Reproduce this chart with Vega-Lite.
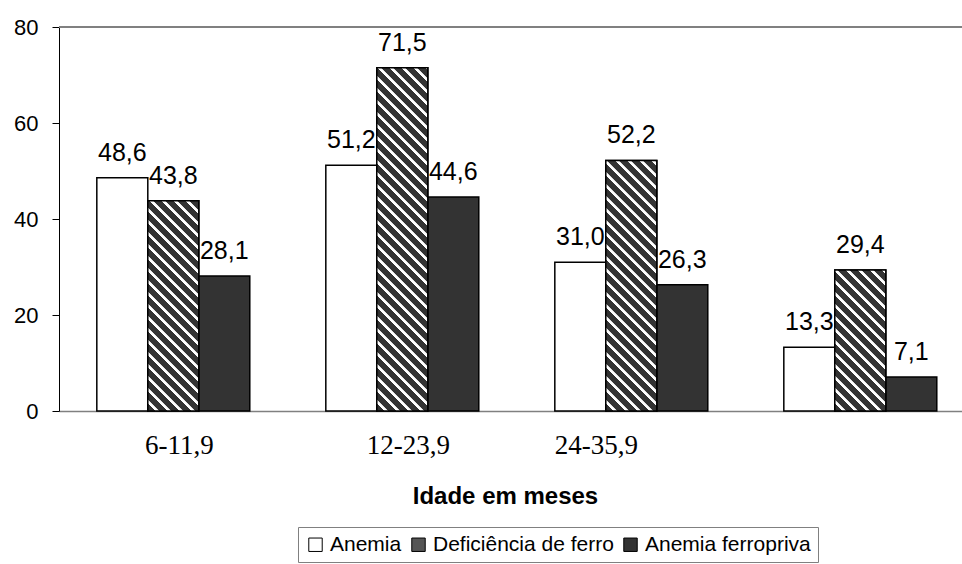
{
"$schema": "https://vega.github.io/schema/vega-lite/v6.json",
"width": 903,
"height": 384,
"autosize": {"type": "none"},
"padding": {"left": 59, "top": 27, "right": 0, "bottom": 153},
"background": "white",
"config": {
  "view": {"stroke": null},
  "font": "Liberation Sans",
  "locale": {"number": {"decimal": ",", "thousands": ".", "grouping": [3], "currency": ["", ""]}}
},
"data": {"values": [
  {"grupo": "6-11,9", "serie": "Anemia", "valor": 48.6},
  {"grupo": "6-11,9", "serie": "Deficiência de ferro", "valor": 43.8},
  {"grupo": "6-11,9", "serie": "Anemia ferropriva", "valor": 28.1},
  {"grupo": "12-23,9", "serie": "Anemia", "valor": 51.2},
  {"grupo": "12-23,9", "serie": "Deficiência de ferro", "valor": 71.5},
  {"grupo": "12-23,9", "serie": "Anemia ferropriva", "valor": 44.6},
  {"grupo": "24-35,9", "serie": "Anemia", "valor": 31.0},
  {"grupo": "24-35,9", "serie": "Deficiência de ferro", "valor": 52.2},
  {"grupo": "24-35,9", "serie": "Anemia ferropriva", "valor": 26.3},
  {"grupo": "", "serie": "Anemia", "valor": 13.3},
  {"grupo": "", "serie": "Deficiência de ferro", "valor": 29.4},
  {"grupo": "", "serie": "Anemia ferropriva", "valor": 7.1}
]},
"encoding": {
  "x": {"field": "grupo", "type": "nominal", "sort": null,
    "scale": {"domain": ["6-11,9", "12-23,9", "24-35,9", ""], "paddingInner": 0.332, "paddingOuter": 0.1376, "align": 0.6},
    "axis": {"title": "Idade em meses", "labelAngle": 0, "labelFont": "Liberation Serif", "labelFontSize": 27, "labelColor": "black",
      "labelBaseline": "alphabetic", "labelPadding": 42,
      "labelOffset": {"condition": {"test": "datum.value === '24-35,9'", "value": -35}, "value": 6},
      "ticks": false, "tickSize": 0, "domainColor": "#808080", "domainWidth": 1.5,
      "titleFont": "Liberation Sans", "titleFontSize": 24, "titleFontWeight": "bold", "titleColor": "black",
      "titleBaseline": "alphabetic", "titleY": 92, "titleX": 446, "titleAlign": "center"}},
  "xOffset": {"field": "serie", "type": "nominal", "sort": null,
    "scale": {"domain": ["Anemia", "Deficiência de ferro", "Anemia ferropriva"], "paddingInner": 0, "paddingOuter": 0}},
  "y": {"field": "valor", "type": "quantitative",
    "scale": {"domain": [0, 80], "nice": false},
    "axis": {"title": null, "values": [0, 20, 40, 60, 80], "grid": false, "domainColor": "black", "domainWidth": 1,
      "tickColor": "black", "tickSize": 7, "labelFontSize": 22, "labelFont": "Liberation Sans", "labelColor": "black", "labelPadding": 14}}
},
"layer": [
  {
    "mark": {"type": "rule", "color": "#808080", "strokeWidth": 1.5},
    "encoding": {"y": {"datum": 80, "type": "quantitative"}, "x": {"value": 0}, "x2": {"value": 903}, "xOffset": {"value": 0}}
  },
  {
    "mark": {"type": "bar", "stroke": "black", "strokeWidth": 1.5},
    "encoding": {
      "color": {"field": "serie", "type": "nominal", "sort": null,
        "scale": {"domain": ["Anemia", "Deficiência de ferro", "Anemia ferropriva"], "range": ["#ffffff", "#555555", "#333333"]},
        "legend": {"title": null, "orient": "none", "legendX": 239, "legendY": 500, "direction": "horizontal",
          "labelFont": "Liberation Sans", "labelFontSize": 21, "labelColor": "black", "labelLimit": 400,
          "symbolType": "square", "symbolSize": 180, "symbolStrokeColor": "black", "symbolStrokeWidth": 1,
          "strokeColor": "#808080", "padding": 7, "columnPadding": 6, "labelOffset": 4}}
    }
  },
  {
    "transform": [{"filter": "datum.serie === 'Deficiência de ferro' && datum.grupo === '6-11,9'"}],
    "mark": {"type": "bar", "stroke": "black", "strokeWidth": 1.5,
      "fill": {"gradient": "linear", "x1": 0, "y1": 1, "x2": 0.5232, "y2": -1.1566, "stops": [
{"offset":0,"color":"#333"},{"offset":0.015,"color":"#333"},{"offset":0.017,"color":"#fff"},{"offset":0.023,"color":"#fff"},
{"offset":0.025,"color":"#333"},{"offset":0.04,"color":"#333"},{"offset":0.042,"color":"#fff"},{"offset":0.048,"color":"#fff"},
{"offset":0.05,"color":"#333"},{"offset":0.065,"color":"#333"},{"offset":0.067,"color":"#fff"},{"offset":0.073,"color":"#fff"},
{"offset":0.075,"color":"#333"},{"offset":0.09,"color":"#333"},{"offset":0.092,"color":"#fff"},{"offset":0.098,"color":"#fff"},
{"offset":0.1,"color":"#333"},{"offset":0.115,"color":"#333"},{"offset":0.117,"color":"#fff"},{"offset":0.123,"color":"#fff"},
{"offset":0.125,"color":"#333"},{"offset":0.14,"color":"#333"},{"offset":0.142,"color":"#fff"},{"offset":0.148,"color":"#fff"},
{"offset":0.15,"color":"#333"},{"offset":0.165,"color":"#333"},{"offset":0.167,"color":"#fff"},{"offset":0.173,"color":"#fff"},
{"offset":0.175,"color":"#333"},{"offset":0.19,"color":"#333"},{"offset":0.192,"color":"#fff"},{"offset":0.198,"color":"#fff"},
{"offset":0.2,"color":"#333"},{"offset":0.215,"color":"#333"},{"offset":0.217,"color":"#fff"},{"offset":0.223,"color":"#fff"},
{"offset":0.225,"color":"#333"},{"offset":0.24,"color":"#333"},{"offset":0.242,"color":"#fff"},{"offset":0.248,"color":"#fff"},
{"offset":0.25,"color":"#333"},{"offset":0.265,"color":"#333"},{"offset":0.267,"color":"#fff"},{"offset":0.273,"color":"#fff"},
{"offset":0.275,"color":"#333"},{"offset":0.29,"color":"#333"},{"offset":0.292,"color":"#fff"},{"offset":0.298,"color":"#fff"},
{"offset":0.3,"color":"#333"},{"offset":0.315,"color":"#333"},{"offset":0.317,"color":"#fff"},{"offset":0.323,"color":"#fff"},
{"offset":0.325,"color":"#333"},{"offset":0.34,"color":"#333"},{"offset":0.342,"color":"#fff"},{"offset":0.348,"color":"#fff"},
{"offset":0.35,"color":"#333"},{"offset":0.365,"color":"#333"},{"offset":0.367,"color":"#fff"},{"offset":0.373,"color":"#fff"},
{"offset":0.375,"color":"#333"},{"offset":0.39,"color":"#333"},{"offset":0.392,"color":"#fff"},{"offset":0.398,"color":"#fff"},
{"offset":0.4,"color":"#333"},{"offset":0.415,"color":"#333"},{"offset":0.417,"color":"#fff"},{"offset":0.423,"color":"#fff"},
{"offset":0.425,"color":"#333"},{"offset":0.44,"color":"#333"},{"offset":0.442,"color":"#fff"},{"offset":0.448,"color":"#fff"},
{"offset":0.45,"color":"#333"},{"offset":0.465,"color":"#333"},{"offset":0.467,"color":"#fff"},{"offset":0.473,"color":"#fff"},
{"offset":0.475,"color":"#333"},{"offset":0.49,"color":"#333"},{"offset":0.492,"color":"#fff"},{"offset":0.498,"color":"#fff"},
{"offset":0.5,"color":"#333"},{"offset":0.515,"color":"#333"},{"offset":0.517,"color":"#fff"},{"offset":0.523,"color":"#fff"},
{"offset":0.525,"color":"#333"},{"offset":0.54,"color":"#333"},{"offset":0.542,"color":"#fff"},{"offset":0.548,"color":"#fff"},
{"offset":0.55,"color":"#333"},{"offset":0.565,"color":"#333"},{"offset":0.567,"color":"#fff"},{"offset":0.573,"color":"#fff"}
      ]}}
  },
  {
    "transform": [{"filter": "datum.serie === 'Deficiência de ferro' && datum.grupo === '12-23,9'"}],
    "mark": {"type": "bar", "stroke": "black", "strokeWidth": 1.5,
      "fill": {"gradient": "linear", "x1": 0, "y1": 1, "x2": 0.2033, "y2": -0.3684, "stops": [
{"offset":0,"color":"#333"},{"offset":0.015,"color":"#333"},{"offset":0.017,"color":"#fff"},{"offset":0.023,"color":"#fff"},
{"offset":0.025,"color":"#333"},{"offset":0.04,"color":"#333"},{"offset":0.042,"color":"#fff"},{"offset":0.048,"color":"#fff"},
{"offset":0.05,"color":"#333"},{"offset":0.065,"color":"#333"},{"offset":0.067,"color":"#fff"},{"offset":0.073,"color":"#fff"},
{"offset":0.075,"color":"#333"},{"offset":0.09,"color":"#333"},{"offset":0.092,"color":"#fff"},{"offset":0.098,"color":"#fff"},
{"offset":0.1,"color":"#333"},{"offset":0.115,"color":"#333"},{"offset":0.117,"color":"#fff"},{"offset":0.123,"color":"#fff"},
{"offset":0.125,"color":"#333"},{"offset":0.14,"color":"#333"},{"offset":0.142,"color":"#fff"},{"offset":0.148,"color":"#fff"},
{"offset":0.15,"color":"#333"},{"offset":0.165,"color":"#333"},{"offset":0.167,"color":"#fff"},{"offset":0.173,"color":"#fff"},
{"offset":0.175,"color":"#333"},{"offset":0.19,"color":"#333"},{"offset":0.192,"color":"#fff"},{"offset":0.198,"color":"#fff"},
{"offset":0.2,"color":"#333"},{"offset":0.215,"color":"#333"},{"offset":0.217,"color":"#fff"},{"offset":0.223,"color":"#fff"},
{"offset":0.225,"color":"#333"},{"offset":0.24,"color":"#333"},{"offset":0.242,"color":"#fff"},{"offset":0.248,"color":"#fff"},
{"offset":0.25,"color":"#333"},{"offset":0.265,"color":"#333"},{"offset":0.267,"color":"#fff"},{"offset":0.273,"color":"#fff"},
{"offset":0.275,"color":"#333"},{"offset":0.29,"color":"#333"},{"offset":0.292,"color":"#fff"},{"offset":0.298,"color":"#fff"},
{"offset":0.3,"color":"#333"},{"offset":0.315,"color":"#333"},{"offset":0.317,"color":"#fff"},{"offset":0.323,"color":"#fff"},
{"offset":0.325,"color":"#333"},{"offset":0.34,"color":"#333"},{"offset":0.342,"color":"#fff"},{"offset":0.348,"color":"#fff"},
{"offset":0.35,"color":"#333"},{"offset":0.365,"color":"#333"},{"offset":0.367,"color":"#fff"},{"offset":0.373,"color":"#fff"},
{"offset":0.375,"color":"#333"},{"offset":0.39,"color":"#333"},{"offset":0.392,"color":"#fff"},{"offset":0.398,"color":"#fff"},
{"offset":0.4,"color":"#333"},{"offset":0.415,"color":"#333"},{"offset":0.417,"color":"#fff"},{"offset":0.423,"color":"#fff"},
{"offset":0.425,"color":"#333"},{"offset":0.44,"color":"#333"},{"offset":0.442,"color":"#fff"},{"offset":0.448,"color":"#fff"},
{"offset":0.45,"color":"#333"},{"offset":0.465,"color":"#333"},{"offset":0.467,"color":"#fff"},{"offset":0.473,"color":"#fff"},
{"offset":0.475,"color":"#333"},{"offset":0.49,"color":"#333"},{"offset":0.492,"color":"#fff"},{"offset":0.498,"color":"#fff"},
{"offset":0.5,"color":"#333"},{"offset":0.515,"color":"#333"},{"offset":0.517,"color":"#fff"},{"offset":0.523,"color":"#fff"},
{"offset":0.525,"color":"#333"},{"offset":0.54,"color":"#333"},{"offset":0.542,"color":"#fff"},{"offset":0.548,"color":"#fff"},
{"offset":0.55,"color":"#333"},{"offset":0.565,"color":"#333"},{"offset":0.567,"color":"#fff"},{"offset":0.573,"color":"#fff"},
{"offset":0.575,"color":"#333"},{"offset":0.59,"color":"#333"},{"offset":0.592,"color":"#fff"},{"offset":0.598,"color":"#fff"},
{"offset":0.6,"color":"#333"},{"offset":0.615,"color":"#333"},{"offset":0.617,"color":"#fff"},{"offset":0.623,"color":"#fff"},
{"offset":0.625,"color":"#333"},{"offset":0.64,"color":"#333"},{"offset":0.642,"color":"#fff"},{"offset":0.648,"color":"#fff"},
{"offset":0.65,"color":"#333"},{"offset":0.665,"color":"#333"},{"offset":0.667,"color":"#fff"},{"offset":0.673,"color":"#fff"},
{"offset":0.675,"color":"#333"},{"offset":0.69,"color":"#333"},{"offset":0.692,"color":"#fff"},{"offset":0.698,"color":"#fff"},
{"offset":0.7,"color":"#333"},{"offset":0.715,"color":"#333"},{"offset":0.717,"color":"#fff"},{"offset":0.723,"color":"#fff"},
{"offset":0.725,"color":"#333"},{"offset":0.74,"color":"#333"},{"offset":0.742,"color":"#fff"},{"offset":0.748,"color":"#fff"},
{"offset":0.75,"color":"#333"},{"offset":0.765,"color":"#333"},{"offset":0.767,"color":"#fff"},{"offset":0.773,"color":"#fff"},
{"offset":0.775,"color":"#333"},{"offset":0.79,"color":"#333"},{"offset":0.792,"color":"#fff"},{"offset":0.798,"color":"#fff"},
{"offset":0.8,"color":"#333"},{"offset":0.815,"color":"#333"},{"offset":0.817,"color":"#fff"},{"offset":0.823,"color":"#fff"},
{"offset":0.825,"color":"#333"},{"offset":0.84,"color":"#333"},{"offset":0.842,"color":"#fff"},{"offset":0.848,"color":"#fff"}
      ]}}
  },
  {
    "transform": [{"filter": "datum.serie === 'Deficiência de ferro' && datum.grupo === '24-35,9'"}],
    "mark": {"type": "bar", "stroke": "black", "strokeWidth": 1.5,
      "fill": {"gradient": "linear", "x1": 0, "y1": 1, "x2": 0.3743, "y2": -0.8392, "stops": [
{"offset":0,"color":"#333"},{"offset":0.015,"color":"#333"},{"offset":0.017,"color":"#fff"},{"offset":0.023,"color":"#fff"},
{"offset":0.025,"color":"#333"},{"offset":0.04,"color":"#333"},{"offset":0.042,"color":"#fff"},{"offset":0.048,"color":"#fff"},
{"offset":0.05,"color":"#333"},{"offset":0.065,"color":"#333"},{"offset":0.067,"color":"#fff"},{"offset":0.073,"color":"#fff"},
{"offset":0.075,"color":"#333"},{"offset":0.09,"color":"#333"},{"offset":0.092,"color":"#fff"},{"offset":0.098,"color":"#fff"},
{"offset":0.1,"color":"#333"},{"offset":0.115,"color":"#333"},{"offset":0.117,"color":"#fff"},{"offset":0.123,"color":"#fff"},
{"offset":0.125,"color":"#333"},{"offset":0.14,"color":"#333"},{"offset":0.142,"color":"#fff"},{"offset":0.148,"color":"#fff"},
{"offset":0.15,"color":"#333"},{"offset":0.165,"color":"#333"},{"offset":0.167,"color":"#fff"},{"offset":0.173,"color":"#fff"},
{"offset":0.175,"color":"#333"},{"offset":0.19,"color":"#333"},{"offset":0.192,"color":"#fff"},{"offset":0.198,"color":"#fff"},
{"offset":0.2,"color":"#333"},{"offset":0.215,"color":"#333"},{"offset":0.217,"color":"#fff"},{"offset":0.223,"color":"#fff"},
{"offset":0.225,"color":"#333"},{"offset":0.24,"color":"#333"},{"offset":0.242,"color":"#fff"},{"offset":0.248,"color":"#fff"},
{"offset":0.25,"color":"#333"},{"offset":0.265,"color":"#333"},{"offset":0.267,"color":"#fff"},{"offset":0.273,"color":"#fff"},
{"offset":0.275,"color":"#333"},{"offset":0.29,"color":"#333"},{"offset":0.292,"color":"#fff"},{"offset":0.298,"color":"#fff"},
{"offset":0.3,"color":"#333"},{"offset":0.315,"color":"#333"},{"offset":0.317,"color":"#fff"},{"offset":0.323,"color":"#fff"},
{"offset":0.325,"color":"#333"},{"offset":0.34,"color":"#333"},{"offset":0.342,"color":"#fff"},{"offset":0.348,"color":"#fff"},
{"offset":0.35,"color":"#333"},{"offset":0.365,"color":"#333"},{"offset":0.367,"color":"#fff"},{"offset":0.373,"color":"#fff"},
{"offset":0.375,"color":"#333"},{"offset":0.39,"color":"#333"},{"offset":0.392,"color":"#fff"},{"offset":0.398,"color":"#fff"},
{"offset":0.4,"color":"#333"},{"offset":0.415,"color":"#333"},{"offset":0.417,"color":"#fff"},{"offset":0.423,"color":"#fff"},
{"offset":0.425,"color":"#333"},{"offset":0.44,"color":"#333"},{"offset":0.442,"color":"#fff"},{"offset":0.448,"color":"#fff"},
{"offset":0.45,"color":"#333"},{"offset":0.465,"color":"#333"},{"offset":0.467,"color":"#fff"},{"offset":0.473,"color":"#fff"},
{"offset":0.475,"color":"#333"},{"offset":0.49,"color":"#333"},{"offset":0.492,"color":"#fff"},{"offset":0.498,"color":"#fff"},
{"offset":0.5,"color":"#333"},{"offset":0.515,"color":"#333"},{"offset":0.517,"color":"#fff"},{"offset":0.523,"color":"#fff"},
{"offset":0.525,"color":"#333"},{"offset":0.54,"color":"#333"},{"offset":0.542,"color":"#fff"},{"offset":0.548,"color":"#fff"},
{"offset":0.55,"color":"#333"},{"offset":0.565,"color":"#333"},{"offset":0.567,"color":"#fff"},{"offset":0.573,"color":"#fff"},
{"offset":0.575,"color":"#333"},{"offset":0.59,"color":"#333"},{"offset":0.592,"color":"#fff"},{"offset":0.598,"color":"#fff"},
{"offset":0.6,"color":"#333"},{"offset":0.615,"color":"#333"},{"offset":0.617,"color":"#fff"},{"offset":0.623,"color":"#fff"},
{"offset":0.625,"color":"#333"},{"offset":0.64,"color":"#333"},{"offset":0.642,"color":"#fff"},{"offset":0.648,"color":"#fff"}
      ]}}
  },
  {
    "transform": [{"filter": "datum.serie === 'Deficiência de ferro' && datum.grupo === ''"}],
    "mark": {"type": "bar", "stroke": "black", "strokeWidth": 1.5,
      "fill": {"gradient": "linear", "x1": 0, "y1": 1, "x2": 1.0875, "y2": -2.0088, "stops": [
{"offset":0,"color":"#333"},{"offset":0.015,"color":"#333"},{"offset":0.017,"color":"#fff"},{"offset":0.023,"color":"#fff"},
{"offset":0.025,"color":"#333"},{"offset":0.04,"color":"#333"},{"offset":0.042,"color":"#fff"},{"offset":0.048,"color":"#fff"},
{"offset":0.05,"color":"#333"},{"offset":0.065,"color":"#333"},{"offset":0.067,"color":"#fff"},{"offset":0.073,"color":"#fff"},
{"offset":0.075,"color":"#333"},{"offset":0.09,"color":"#333"},{"offset":0.092,"color":"#fff"},{"offset":0.098,"color":"#fff"},
{"offset":0.1,"color":"#333"},{"offset":0.115,"color":"#333"},{"offset":0.117,"color":"#fff"},{"offset":0.123,"color":"#fff"},
{"offset":0.125,"color":"#333"},{"offset":0.14,"color":"#333"},{"offset":0.142,"color":"#fff"},{"offset":0.148,"color":"#fff"},
{"offset":0.15,"color":"#333"},{"offset":0.165,"color":"#333"},{"offset":0.167,"color":"#fff"},{"offset":0.173,"color":"#fff"},
{"offset":0.175,"color":"#333"},{"offset":0.19,"color":"#333"},{"offset":0.192,"color":"#fff"},{"offset":0.198,"color":"#fff"},
{"offset":0.2,"color":"#333"},{"offset":0.215,"color":"#333"},{"offset":0.217,"color":"#fff"},{"offset":0.223,"color":"#fff"},
{"offset":0.225,"color":"#333"},{"offset":0.24,"color":"#333"},{"offset":0.242,"color":"#fff"},{"offset":0.248,"color":"#fff"},
{"offset":0.25,"color":"#333"},{"offset":0.265,"color":"#333"},{"offset":0.267,"color":"#fff"},{"offset":0.273,"color":"#fff"},
{"offset":0.275,"color":"#333"},{"offset":0.29,"color":"#333"},{"offset":0.292,"color":"#fff"},{"offset":0.298,"color":"#fff"},
{"offset":0.3,"color":"#333"},{"offset":0.315,"color":"#333"},{"offset":0.317,"color":"#fff"},{"offset":0.323,"color":"#fff"},
{"offset":0.325,"color":"#333"},{"offset":0.34,"color":"#333"},{"offset":0.342,"color":"#fff"},{"offset":0.348,"color":"#fff"},
{"offset":0.35,"color":"#333"},{"offset":0.365,"color":"#333"},{"offset":0.367,"color":"#fff"},{"offset":0.373,"color":"#fff"},
{"offset":0.375,"color":"#333"},{"offset":0.39,"color":"#333"},{"offset":0.392,"color":"#fff"},{"offset":0.398,"color":"#fff"},
{"offset":0.4,"color":"#333"},{"offset":0.415,"color":"#333"},{"offset":0.417,"color":"#fff"},{"offset":0.423,"color":"#fff"}
      ]}}
  },
  {
    "mark": {"type": "text", "font": "Liberation Sans", "fontSize": 25, "baseline": "alphabetic", "dy": -17, "color": "black"},
    "encoding": {
      "text": {"field": "valor", "type": "quantitative", "format": ".1f"}
    }
  }
]
}
